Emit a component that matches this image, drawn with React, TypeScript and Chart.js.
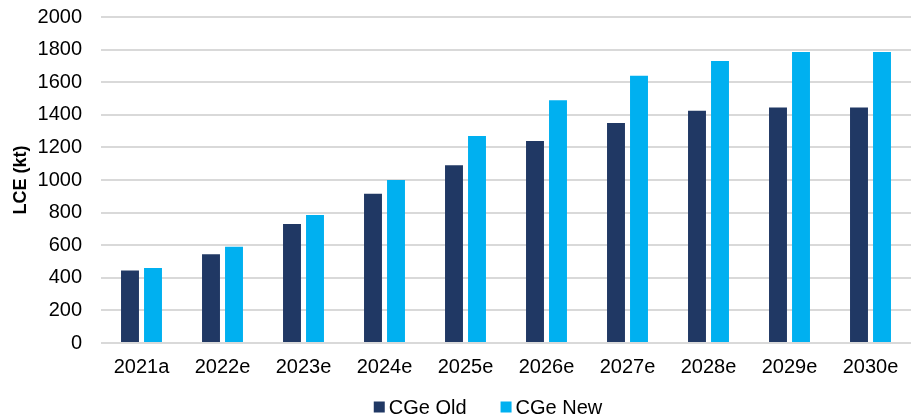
import React, { useEffect, useRef } from "react";
import { Chart, registerables } from "chart.js";

Chart.register(...registerables);

const categories = ["2021a", "2022e", "2023e", "2024e", "2025e", "2026e", "2027e", "2028e", "2029e", "2030e"];
const cgeOld = [445, 545, 730, 915, 1090, 1240, 1350, 1425, 1445, 1445];
const cgeNew = [460, 590, 785, 1000, 1270, 1490, 1640, 1730, 1785, 1785];
const yTicks = [0, 200, 400, 600, 800, 1000, 1200, 1400, 1600, 1800, 2000];

const FONT = "'Liberation Sans', Arial, sans-serif";
const TICK_SIZE = 20;

const bottomLegend = {
  id: "bottomLegend",
  afterDraw(chart: any) {
    const ctx = chart.ctx;
    const box = 11;
    const gapText = 4;
    const gapItem = 34;
    ctx.save();
    ctx.font = `${TICK_SIZE}px ${FONT}`;
    const items = chart.data.datasets.map((d: any) => ({
      text: d.label,
      color: d.backgroundColor,
      w: box + gapText + ctx.measureText(d.label).width,
    }));
    const total = items.reduce((s: number, it: any) => s + it.w, 0) + gapItem * (items.length - 1);
    let x = 488 - total / 2;
    const cy = 407;
    ctx.textBaseline = "middle";
    ctx.textAlign = "left";
    for (const it of items) {
      ctx.fillStyle = it.color;
      ctx.fillRect(x, cy - box / 2, box, box);
      ctx.fillStyle = "#000";
      ctx.fillText(it.text, x + box + gapText, cy + 1);
      x += it.w + gapItem;
    }
    ctx.restore();
  },
};

export default function App() {
  const ref = useRef<HTMLCanvasElement | null>(null);
  useEffect(() => {
    if (!ref.current) return;
    const chart = new Chart(ref.current, {
      type: "bar",
      data: {
        labels: categories,
        datasets: [
          { label: "CGe Old", data: cgeOld, backgroundColor: "#203864", categoryPercentage: 0.568, barPercentage: 0.78 },
          { label: "CGe New", data: cgeNew, backgroundColor: "#00b0f0", categoryPercentage: 0.568, barPercentage: 0.78 },
        ],
      },
      options: {
        animation: false,
        responsive: false,
        layout: { padding: { left: 6, right: 7, top: 0, bottom: 38 } },
        plugins: {
          legend: { display: false },
          tooltip: { enabled: false },
        },
        scales: {
          x: {
            grid: { display: false, drawTicks: false },
            border: { display: false },
            ticks: { color: "#000", font: { family: FONT, size: TICK_SIZE }, padding: 12, maxRotation: 0 },
            afterFit: (scale: any) => {
              scale.height = 35;
              scale.paddingLeft = 0;
              scale.paddingRight = 0;
            },
          },
          y: {
            min: 0,
            max: 2000,
            afterBuildTicks: (axis: any) => {
              axis.ticks = yTicks.map((v) => ({ value: v }));
            },
            afterFit: (scale: any) => {
              scale.width = 95;
              scale.paddingTop = 17;
              scale.paddingBottom = 0;
            },
            grid: { color: "#d9d9d9", lineWidth: 2, drawTicks: false },
            border: { display: false },
            ticks: {
              color: "#000",
              font: { family: FONT, size: TICK_SIZE },
              padding: 19,
              callback: (v: any) => String(v),
            },
            title: {
              display: true,
              text: "LCE (kt)",
              color: "#000",
              font: { family: FONT, size: 18, weight: "bold" },
              padding: { top: 4, bottom: 8 },
            },
          },
        },
      },
      plugins: [bottomLegend],
    });
    return () => chart.destroy();
  }, []);
  return (
    <div style={{ position: "fixed", left: 0, top: 0, width: 918, height: 416, background: "#fff" }}>
      <canvas ref={ref} width={918} height={416} style={{ display: "block" }} />
    </div>
  );
}
